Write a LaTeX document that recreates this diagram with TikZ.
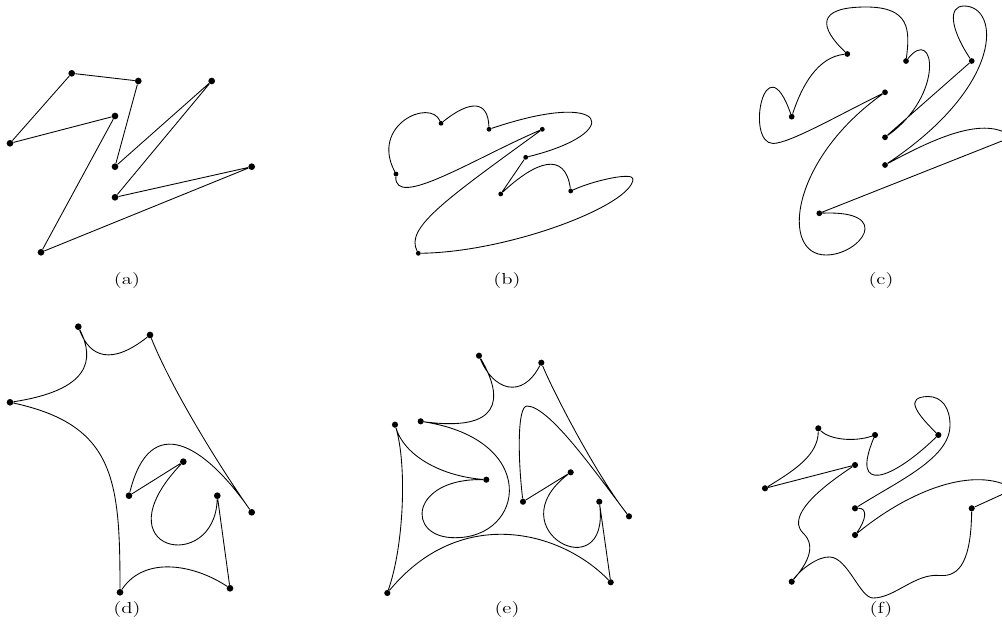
\documentclass[tikz,border=0pt]{standalone}
\begin{document}
\begin{tikzpicture}[x=0.75pt,y=-0.75pt,
  ln/.style={line width=0.65pt,line join=round},
  pta/.style={circle,fill=black,inner sep=0pt,minimum size=5pt},
  ptb/.style={circle,fill=black,inner sep=0pt,minimum size=3.6pt},
  ptc/.style={circle,fill=black,inner sep=0pt,minimum size=4.3pt},
  ptd/.style={circle,fill=black,inner sep=0pt,minimum size=5pt},
  pte/.style={circle,fill=black,inner sep=0pt,minimum size=4.6pt},
  ptf/.style={circle,fill=black,inner sep=0pt,minimum size=4.6pt},
  captext/.style={inner sep=0pt,font=\fontsize{12}{14}\selectfont}]
\newcommand\captxt[1]{\scalebox{1.3}[1]{#1}}
\useasboundingbox (0,0) rectangle (1002,635);
% ---------- (a)
\node[pta] (a1) at (71.7,73.3) {};
\node[pta] (a2) at (138.3,81) {};
\node[pta] (a3) at (211.7,81) {};
\node[pta] (a4) at (115,116) {};
\node[pta] (a5) at (10,143.3) {};
\node[pta] (a6) at (115,166.7) {};
\node[pta] (a7) at (251.7,166.7) {};
\node[pta] (a8) at (115,197.3) {};
\node[pta] (a9) at (41,252.3) {};
\draw[ln] (a5) -- (a1) -- (a2) -- (a6) -- (a3) -- (a8) -- (a7) -- (a9) -- (a4) -- (a5);
\node[captext] (capa) at (127,281) {\captxt{(a)}};
% ---------- (b)
\node[ptb] (b1) at (441,123.3) {};
\node[ptb] (b2) at (489,129.3) {};
\node[ptb] (b3) at (542.3,129.3) {};
\node[ptb] (b4) at (525.7,157.3) {};
\node[ptb] (b5) at (396,174) {};
\node[ptb] (b6) at (500.7,194) {};
\node[ptb] (b7) at (570.7,191) {};
\node[ptb] (b8) at (418.3,253.3) {};
\draw[ln] (b5) .. controls (394,210) and (475,158) .. (b3)
  (b3) .. controls (445,200) and (405,228) .. (b8)
  (b8) .. controls (510,252) and (632,205) .. (633,179) .. controls (633,172) and (595,180) .. (b7)
  (b7) .. controls (565,150) and (535,162) .. (b6)
  (b6) -- (b4)
  (b4) .. controls (625,133) and (610,88) .. (b2)
  (b2) .. controls (488,100) and (470,100) .. (b1)
  (b1) .. controls (430,98) and (370,125) .. (b5);
\node[captext] (capb) at (507,281) {\captxt{(b)}};
% ---------- (c)
\node[ptc] (c1) at (847.3,54) {};
\node[ptc] (c2) at (906,61) {};
\node[ptc] (c3) at (971.7,61) {};
\node[ptc] (c4) at (885,92.3) {};
\node[ptc] (c5) at (791.7,116.7) {};
\node[ptc] (c6) at (885,137.3) {};
\node[ptc] (c7) at (885,165) {};
\node[ptc] (c8) at (819.3,213.3) {};
\draw[ln] (c5) .. controls (802,85) and (818,57) .. (c1)
  (c1) .. controls (820,28) and (815,7) .. (866,7) .. controls (910,7) and (910,30) .. (c2)
  (c2) .. controls (935,25) and (945,95) .. (c6)
  (c6) -- (c3)
  (c3) .. controls (950,28) and (948,6) .. (964,6) .. controls (1000,6) and (1005,85) .. (c7)
  (c7) .. controls (935,138) and (985,115) .. (1012,137) -- (c8)
  (c8) .. controls (895,210) and (860,255) .. (826,255) .. controls (780,255) and (790,160) .. (c4)
  (c4) .. controls (835,117) and (790,143) .. (773,143.5) .. controls (745,143) and (765,40) .. (c5);
\node[captext] (capc) at (881,281) {\captxt{(c)}};
% ---------- (d)
\node[ptd] (d1) at (78.3,326.7) {};
\node[ptd] (d2) at (150,335) {};
\node[ptd] (d3) at (10,402.3) {};
\node[ptd] (d4) at (183.3,461.7) {};
\node[ptd] (d5) at (129,495.7) {};
\node[ptd] (d6) at (217.3,495.7) {};
\node[ptd] (d7) at (251.7,512.3) {};
\node[ptd] (d8) at (120,592.3) {};
\node[ptd] (d9) at (230,588.3) {};
\draw[ln] (d3) .. controls (90,390) and (95,360) .. (d1)
  (d1) .. controls (90,358) and (112,365) .. (d2)
  (d2) .. controls (170,385) and (215,460) .. (d7)
  (d7) .. controls (205,445) and (150,410) .. (d5)
  (d5) -- (d4)
  (d4) .. controls (98,552) and (215,575) .. (d6)
  (d6) -- (d9)
  (d9) .. controls (195,565) and (145,555) .. (d8)
  (d8) .. controls (120,480) and (115,425) .. (d3);
\node[captext] (capd) at (127,609) {\captxt{(d)}};
% ---------- (e)
\node[pte] (e1) at (479,355.7) {};
\node[pte] (e2) at (541.3,362.7) {};
\node[pte] (e3) at (420.7,421.3) {};
\node[pte] (e4) at (395,424.7) {};
\node[pte] (e5) at (486.3,479.7) {};
\node[pte] (e6) at (570.7,472.3) {};
\node[pte] (e7) at (523,501.7) {};
\node[pte] (e8) at (599.3,501.7) {};
\node[pte] (e9) at (629,516.3) {};
\node[pte] (e10) at (610.7,582.3) {};
\node[pte] (e11) at (387.3,593) {};
\draw[ln] (e4) .. controls (404,455) and (440,476) .. (e5)
  (e5) .. controls (410,478) and (405,538) .. (455,537.7) .. controls (525,538) and (540,440) .. (e3)
  (e3) .. controls (500,432) and (505,400) .. (e1)
  (e1) .. controls (493,390) and (522,400) .. (e2)
  (e2) .. controls (557,400) and (600,480) .. (e9)
  (e9) .. controls (600,479) and (550,406) .. (527,406) .. controls (517,406) and (518,460) .. (e7)
  (e7) -- (e6)
  (e6) .. controls (495,530) and (610,590) .. (e8)
  (e8) -- (e10)
  (e10) .. controls (560,530) and (460,505) .. (e11)
  (e11) .. controls (404,545) and (407,465) .. (e4);
\node[captext] (cape) at (507,609) {\captxt{(e)}};
% ---------- (f)
\node[ptf] (f1) at (818.3,428.3) {};
\node[ptf] (f2) at (875,435) {};
\node[ptf] (f3) at (938.3,435) {};
\node[ptf] (f4) at (855,465) {};
\node[ptf] (f5) at (765,488.3) {};
\node[ptf] (f6) at (855,508.3) {};
\node[ptf] (f7) at (971.7,508.3) {};
\node[ptf] (f8) at (855,535) {};
\node[ptf] (f9) at (791.7,581.7) {};
\draw[ln] (f5) .. controls (795,470) and (818,455) .. (f1)
  (f1) .. controls (830,440) and (855,442) .. (f2)
  (f2) .. controls (850,495) and (892,480) .. (f3)
  (f3) .. controls (915,412) and (905,397) .. (928,396.5) .. controls (942,396.5) and (950,408) .. (950,425) .. controls (950,458) and (900,480) .. (f6)
  (f6) .. controls (868,508) and (866,520) .. (f8)
  (f8) .. controls (910,490) and (975,465) .. (1014,489) -- (f7)
  (f7) .. controls (971,560) and (960,577) .. (940,575.5) .. controls (915,573) and (895,598) .. (873,598) .. controls (860,598) and (848,558) .. (830,557) .. controls (818,556) and (800,570) .. (f9)
  (f9) .. controls (805,566) and (818,547) .. (803,533) .. controls (790,520) and (805,498) .. (f4)
  (f4) -- (f5);
\node[captext] (capf) at (881,609) {\captxt{(f)}};
\end{tikzpicture}
\end{document}
